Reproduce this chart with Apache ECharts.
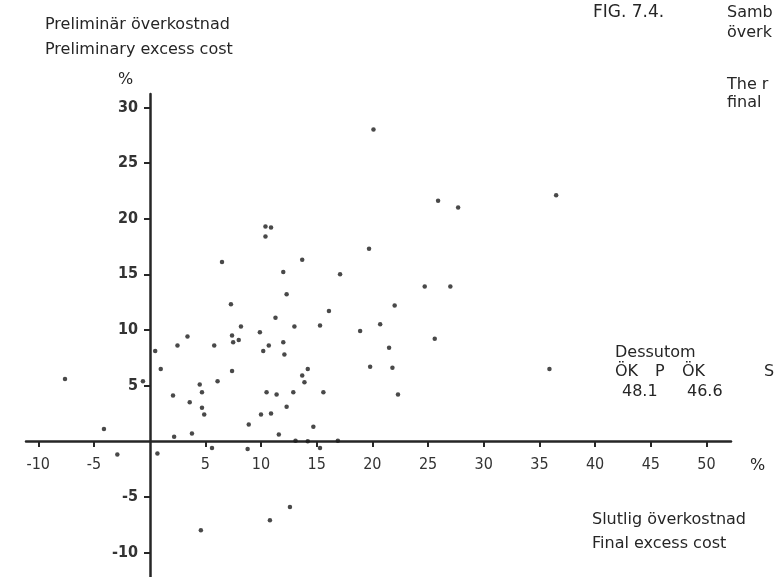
<!DOCTYPE html>
<html>
<head>
<meta charset="utf-8">
<script src="https://cdn.jsdelivr.net/npm/echarts@6/dist/echarts.min.js"></script>
<style>
html,body{margin:0;padding:0;background:#fff;}
#chart{width:775px;height:577px;}
</style>
</head>
<body>
<div id="chart"></div>
<script>
// Final excess cost (x, %) and preliminary excess cost (y, %)
var finalCost = [6.5,10.4,10.9,10.4,12.0,13.7,17.1,20.1,25.9,27.7,36.5,19.7,12.3,7.3,11.3,8.2,13.0,7.4,9.9,7.5,8.0,10.7,12.0,10.2,12.1,0.5,2.5,3.4,5.8,1.0,7.4,-7.6,-0.6,6.1,4.5,4.7,2.1,3.6,10.5,11.4,12.9,4.7,4.9,12.3,10.0,10.9,8.9,-4.1,2.2,3.8,11.6,13.1,5.6,8.8,24.7,27.0,22.0,16.1,15.3,20.7,18.9,25.6,21.5,19.8,21.8,35.9,14.2,13.7,13.9,15.6,22.3,14.7,14.2,16.9,-2.9,0.7,4.6,10.8,12.6,15.3];
var prelimCost = [16.1,19.3,19.2,18.4,15.2,16.3,15.0,28.0,21.6,21.0,22.1,17.3,13.2,12.3,11.1,10.3,10.3,9.5,9.8,8.9,9.1,8.6,8.9,8.1,7.8,8.1,8.6,9.4,8.6,6.5,6.3,5.6,5.4,5.4,5.1,4.4,4.1,3.5,4.4,4.2,4.4,3.0,2.4,3.1,2.4,2.5,1.5,1.1,0.4,0.7,0.6,0.05,-0.6,-0.7,13.9,13.9,12.2,11.7,10.4,10.5,9.9,9.2,8.4,6.7,6.6,6.5,6.5,5.9,5.3,4.4,4.2,1.3,0.0,0.05,-1.2,-1.1,-8.0,-7.1,-5.9,-0.6];
var xTickValues = [-10,-5,5,10,15,20,25,30,35,40,45,50];
var yTickValues = [-10,-5,5,10,15,20,25,30];

var points = finalCost.map(function(v,i){return [v, prelimCost[i]];});

var ink = '#262626';
var txtFont = '16px "DejaVu Sans"';
function t(str, x, y, font){
  return {type:'text', style:{text:str, x:x, y:y, font:font || txtFont, fill:ink, textVerticalAlign:'middle'}};
}

var chart = echarts.init(document.getElementById('chart'));
chart.setOption({
  animation:false,
  backgroundColor:'#ffffff',
  grid:{left:26, right:44, top:94, bottom:0, containLabel:false, outerBoundsMode:'none'},
  xAxis:{
    type:'value', min:-11.1, max:52.2, position:'bottom', offset:-136,
    splitLine:{show:false},
    axisLine:{onZero:false, lineStyle:{color:ink, width:2.5}},
    axisTick:{show:true, length:6, customValues:xTickValues, lineStyle:{color:ink, width:2}},
    axisLabel:{customValues:xTickValues, margin:16, fontFamily:'"DejaVu Sans Condensed"', fontSize:16, color:'#333'}
  },
  yAxis:{
    type:'value', min:-12.2, max:31.2, position:'left', offset:-124,
    splitLine:{show:false},
    axisLine:{onZero:false, lineStyle:{color:ink, width:2.5}},
    axisTick:{show:true, length:6, customValues:yTickValues, lineStyle:{color:ink, width:2}},
    axisLabel:{customValues:yTickValues, margin:12, fontFamily:'"DejaVu Sans Condensed"', fontWeight:'bold', fontSize:16, color:'#333'}
  },
  series:[{
    type:'scatter',
    data:points,
    symbol:'circle',
    symbolSize:4.5,
    itemStyle:{color:'#1c1c1c'}
  }],
  graphic:[
    t('Preliminär överkostnad', 45, 25),
    t('Preliminary excess cost', 45, 50),
    t('%', 118, 80),
    t('FIG. 7.4.', 593, 13, '17px "DejaVu Sans"'),
    t('Samb', 727, 13),
    t('överk', 727, 33),
    t('The r', 727, 85),
    t('final', 727, 103),
    t('Dessutom', 615, 353),
    t('ÖK', 615, 372),
    t('P', 655, 372),
    t('ÖK', 682, 372),
    t('S', 764, 372),
    t('48.1', 622, 392),
    t('46.6', 687, 392),
    t('%', 750, 466),
    t('Slutlig överkostnad', 592, 520),
    t('Final excess cost', 592, 544)
  ]
});
</script>
</body>
</html>
